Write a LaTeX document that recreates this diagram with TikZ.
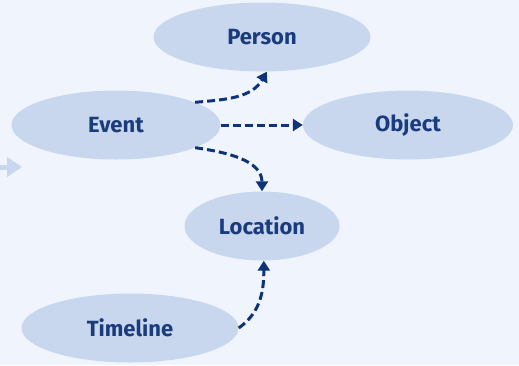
\documentclass[tikz,border=0pt]{standalone}
\usepackage{fontspec}
\setmainfont{Fira Sans}
\usetikzlibrary{arrows.meta,shapes.geometric}

\definecolor{bgblue}{HTML}{F0F5FD}
\definecolor{pale}{HTML}{C8D6EE}
\definecolor{ink}{HTML}{1A3B7C}
\definecolor{arrowblue}{HTML}{0E3377}

\begin{document}
\begin{tikzpicture}[x=1pt,y=-1pt,
    entity/.style={ellipse, fill=pale, inner sep=0pt, minimum height=69pt,
        text=ink, font=\fontsize{22}{26}\selectfont\bfseries},
    link/.style={draw=arrowblue, line width=3pt, dash pattern=on 8pt off 4pt,
        -{Triangle[length=10pt,width=12pt]}}]
    \fill[bgblue] (0,0) rectangle (519,365);
    \useasboundingbox (0,0) rectangle (519,365);

    \node[entity, minimum width=217pt] (person) at (262,37) {Person};
    \node[entity, minimum width=209pt] (event) at (116,125) {Event};
    \node[entity, minimum width=210pt] (object) at (408,125) {Object};
    \node[entity, minimum width=155pt] (location) at (262,226) {Location};
    \node[entity, minimum width=217pt] (timeline) at (130,328) {Timeline};

    % faded arrow at the left edge
    \coordinate (inA) at (-12,167);
    \coordinate (inB) at (22,167);
    \draw[pale, line width=5pt, -{Triangle[length=15pt,width=19pt]}] (inA) -- (inB);

    \draw[link] (event.16) to[out=5,in=-120] (person.-82);
    \draw[link] (event.east) -- (object.west);
    \draw[link] (event.-16) to[out=-8,in=90] (location.north);
    \draw[link] (timeline.east) to[out=35,in=-90] (location.-87);
\end{tikzpicture}
\end{document}
